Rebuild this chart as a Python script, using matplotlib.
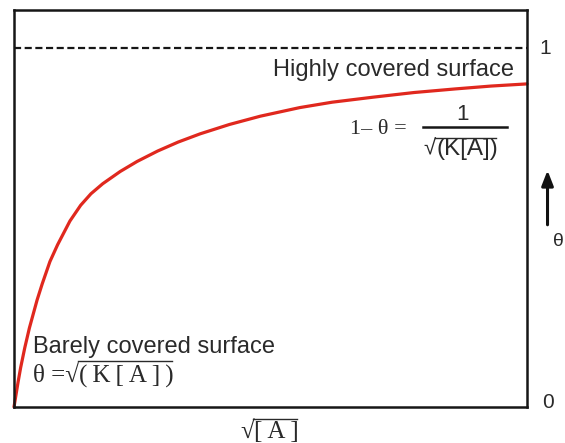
import numpy as np
import matplotlib.pyplot as plt
from matplotlib.lines import Line2D

plt.rcParams['font.family'] = ['Liberation Sans', 'DejaVu Sans']

# values: x is sqrt[A] (scaled 0..1), theta is coverage
sqrt_a = [0.0, 0.004, 0.008, 0.013, 0.021, 0.03, 0.045, 0.055, 0.07, 0.085,
          0.109, 0.13, 0.15, 0.173, 0.207, 0.24, 0.28, 0.32, 0.363, 0.42,
          0.48, 0.557, 0.62, 0.7, 0.78, 0.86, 0.93, 1.0]
theta = [0.0, 0.035, 0.07, 0.11, 0.165, 0.22, 0.298, 0.343, 0.405, 0.452,
         0.518, 0.562, 0.594, 0.622, 0.656, 0.684, 0.713, 0.738, 0.761, 0.787,
         0.81, 0.834, 0.849, 0.863, 0.876, 0.886, 0.894, 0.90]
full_cover = 1.0

fig = plt.figure(figsize=(5.65, 4.43), dpi=100)
ax = fig.add_axes([14 / 565, 36 / 443, 513 / 565, 397 / 443])
ax.set_xlim(0, 1)
ax.set_ylim(0, 397 / 359)
ax.set_xticks([])
ax.set_yticks([])
for s in ax.spines.values():
    s.set_linewidth(1.8)
    s.set_color('#161616')

txt = '#2a2a2a'
serif = ['Liberation Serif', 'DejaVu Serif']
ax.axhline(full_cover, color='#161616', lw=1.6, ls=(0, (3.2, 1.6)))
ax.plot(sqrt_a, theta, color='#e0281e', lw=2.3, solid_capstyle='round', clip_on=False)

ax.text(0.975, 0.849, 'Highly covered surface', transform=ax.transAxes,
        ha='right', va='center', fontsize=17, color=txt)
ax.text(0.038, 0.150, 'Barely covered surface', transform=ax.transAxes,
        ha='left', va='center', fontsize=17, color=txt)

# pieces that need an overline (drawn after layout)
overlined = []
ts = '\u2009'

t1 = ax.text(0.038, 0.078, '\u03b8 =\u221a', transform=ax.transAxes,
             ha='left', va='center', fontsize=18, color=txt, family=serif)
t2 = ax.annotate(ts.join('(K[A])'), xy=(1, 0.5), xycoords=t1, ha='left', va='center',
                 fontsize=18, color=txt, family=serif)
overlined.append((t2, 3))

# 1 - theta = 1 / sqrt(K[A])
ax.text(0.711, 0.698, '1\u2013 \u03b8 =', transform=ax.transAxes,
        ha='center', va='center', fontsize=16, color=txt, family=serif)
ax.text(0.875, 0.736, '1', transform=ax.transAxes,
        ha='center', va='center', fontsize=16, color=txt)
ax.plot([0.797, 0.961], [0.705, 0.705], transform=ax.transAxes, color='#161616', lw=1.8)
t3 = ax.text(0.799, 0.650, '\u221a', transform=ax.transAxes,
             ha='left', va='center', fontsize=16, color=txt)
t4 = ax.annotate('(K[A])', xy=(1, 0.5), xycoords=t3, ha='left', va='center',
                 fontsize=17.5, color=txt)
overlined.append((t4, 0))

# right side labels
ax.text(1.025, full_cover, '1', transform=ax.get_yaxis_transform(),
        ha='left', va='center', fontsize=15, color=txt)
ax.text(1.03, 0.012, '0', transform=ax.transAxes,
        ha='left', va='center', fontsize=15, color=txt)
ax.annotate('', xy=(1.04, 0.603), xytext=(1.04, 0.452), xycoords='axes fraction',
            arrowprops=dict(arrowstyle='-|>,head_width=0.35,head_length=0.9', lw=2.2,
                            color='#111111'), annotation_clip=False)
ax.text(1.062, 0.418, '\u03b8', transform=ax.transAxes,
        ha='center', va='center', fontsize=14, color=txt)

# x axis label
t5 = ax.text(0.442, -0.062, '\u221a', transform=ax.transAxes,
             ha='left', va='center', fontsize=18, color=txt, family=serif)
t6 = ax.annotate(ts.join('[A]'), xy=(1, 0.5), xycoords=t5, ha='left', va='center',
                 fontsize=18, color=txt, family=serif)
overlined.append((t6, 2))

fig.canvas.draw()
r = fig.canvas.get_renderer()
for t, lift in overlined:
    bb = t.get_window_extent(r)
    y = bb.y1 + lift
    fig.add_artist(Line2D([bb.x0 - 1, bb.x1 - 2], [y, y], transform=None,
                          color=txt, lw=1.0))

fig.savefig('out.png', dpi=100)
